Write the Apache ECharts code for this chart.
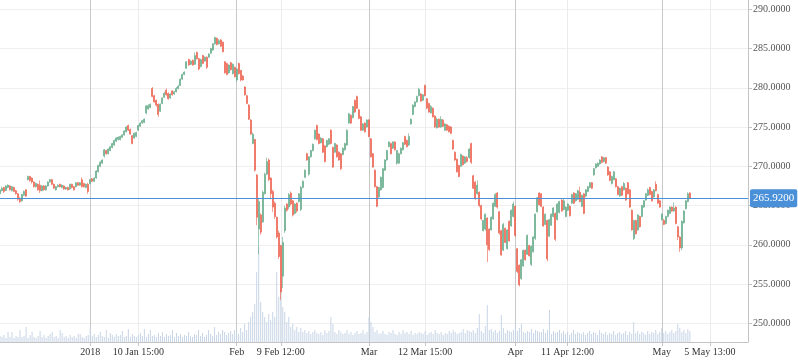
<!DOCTYPE html>
<html><head><meta charset="utf-8">
<script src="https://cdn.jsdelivr.net/npm/echarts@6/dist/echarts.min.js"></script>
<style>html,body{margin:0;padding:0;background:#fff}#c{width:798px;height:363px}</style>
</head><body><div id="c"></div>
<script>
// [open, close, low, high]
const candlesA = [
[266.5,267.0,266.3,267.1],[266.9,267.2,266.8,267.4],[267.3,266.8,266.6,267.4],[266.9,267.5,266.9,267.6],[267.3,267.6,267.2,267.7],
[267.5,267.0,266.9,267.6],[266.9,267.4,266.8,267.5],[267.3,266.8,266.7,267.4],[266.9,266.5,266.4,267.0],[266.5,265.8,265.6,266.6],
[265.9,265.5,265.3,266.1],[265.6,266.4,265.5,266.5],[266.3,266.8,266.2,266.9],[267.0,266.2,266.1,267.1],[268.3,268.7,268.2,268.8],
[268.7,268.2,268.0,268.8],[268.5,268.0,267.8,268.6],[268.0,267.4,267.3,268.1],[267.4,267.8,267.3,267.9],[267.7,267.0,266.9,267.8],
[267.6,266.9,266.6,268.2],[266.9,267.5,266.8,267.6],[267.5,267.0,266.9,267.6],[267.0,267.5,266.9,267.6],[267.5,268.0,267.4,268.1],
[268.0,268.3,267.9,268.4],[268.3,267.7,267.6,268.4],[267.7,267.2,267.1,267.8],[267.0,267.4,266.9,267.5],[267.4,267.6,267.3,267.7],
[267.7,267.4,267.3,267.8],[267.3,267.6,267.2,267.7],[267.5,267.1,267.0,267.6],[267.1,267.3,267.0,267.4],[267.3,267.0,266.9,267.4],
[267.1,267.7,267.0,267.8],[267.7,267.3,267.2,267.8],[267.4,267.0,266.9,267.5],[267.4,267.9,267.3,268.0],[267.9,267.6,267.5,268.0],
[267.6,267.9,267.5,268.0],[268.3,267.4,267.3,268.6],[267.8,267.4,267.3,267.9],[267.3,267.7,267.2,267.8],[267.7,266.8,266.5,267.9],
[267.8,268.3,267.7,268.4],[268.4,268.1,268.0,268.5],[268.1,268.5,268.0,268.6],[268.5,269.4,268.4,269.5],[269.3,270.1,269.2,270.2],
[270.0,270.5,269.9,270.7],[270.4,270.8,270.3,270.9],[271.3,272.1,271.1,272.2],[272.0,271.6,271.5,272.1],[271.6,272.2,271.5,272.3],
[272.0,272.5,271.9,272.6],[272.4,272.9,272.3,273.0],[272.7,273.3,272.6,273.4],[273.2,273.6,273.1,273.7],[273.4,273.7,273.3,273.8],
[273.4,273.8,273.3,273.9],[273.7,274.0,273.6,274.1],[274.0,274.5,273.9,274.6],[274.4,275.0,274.3,275.1],[275.2,274.6,274.5,275.3],
[274.7,274.1,274.0,274.8],[273.9,272.9,272.8,274.0],[273.6,274.2,273.5,274.3],[273.8,274.3,273.7,274.4],[274.6,275.2,274.5,275.3],
[275.1,275.5,275.0,275.6],[275.5,275.8,275.4,275.9],[275.6,276.0,275.5,276.1]
];
const candlesB = [
[276.8,277.7,276.6,277.8],[277.3,277.7,277.2,277.9],[277.5,277.9,277.4,278.0],[279.9,278.9,278.8,280.1],[279.0,278.2,278.1,279.1],
[278.4,277.8,277.6,278.5],[277.9,276.6,276.3,278.0],[277.0,277.9,276.9,278.0],[278.0,278.7,277.9,278.8],[278.8,279.3,278.7,279.5],
[279.7,279.1,279.0,279.9],[279.3,278.6,278.5,279.4],[278.7,279.2,278.6,279.3],[279.6,279.1,279.0,279.7],[279.2,279.5,279.1,279.6],
[279.5,279.9,279.4,280.1],[279.9,280.2,279.8,280.4],[280.3,281.1,280.2,281.2],[281.1,281.7,281.0,281.8],[281.7,282.0,281.6,282.1],
[282.5,283.3,282.4,283.4],[283.6,282.9,282.8,283.7],[283.0,283.4,282.9,283.5],[283.5,282.9,282.8,283.6],[283.0,284.1,282.9,284.5],
[284.5,283.7,283.6,284.6],[283.7,282.4,282.2,283.8],[282.7,283.6,282.6,283.7],[284.1,283.1,283.0,284.2],[283.4,283.9,283.3,284.0],
[283.9,282.6,282.4,284.0],[283.9,284.3,283.8,284.4],[284.4,285.0,284.3,285.1],[284.8,285.6,284.7,285.7],[285.6,286.4,285.5,286.5],
[286.3,285.5,285.4,286.4],[285.6,286.0,285.5,286.2],[286.1,285.3,285.2,286.2],[285.8,284.6,284.5,285.9],[283.3,281.9,281.8,283.4],
[283.1,281.7,281.6,283.2],[281.9,282.9,281.8,283.0],[283.2,282.3,282.2,283.3],[281.8,283.0,281.7,283.1],[282.6,281.4,281.3,282.7],
[281.0,282.4,280.8,282.5],[283.1,281.8,281.7,283.2],[282.2,281.0,280.8,282.3],[281.5,281.0,280.9,281.6],[280.1,279.1,279.0,280.2],
[279.0,278.0,277.9,279.1],[277.8,276.0,275.9,277.9],[275.9,274.1,274.0,276.0],[272.9,274.1,272.8,274.3],[273.4,269.5,269.3,273.5],
[268.9,263.5,262.5,269.0],[262.0,265.5,258.8,266.0],[263.8,261.6,261.3,264.0],[262.9,266.7,262.8,266.9],[266.5,269.0,266.4,269.2],
[269.0,270.6,268.9,271.1],[270.8,268.3,268.1,271.0],[268.5,266.5,265.8,268.6],[266.8,264.8,264.2,267.0],[265.3,263.6,263.3,265.5],
[263.5,261.0,260.8,263.6],[261.5,258.5,258.2,261.8]
];
const candlesC = [
[259.9,254.0,253.0,260.0],[256.0,260.3,254.5,261.0],[261.8,264.7,261.5,265.0],[265.2,264.4,264.2,265.3],[264.8,266.4,264.5,266.6],
[266.6,265.2,265.0,266.8],[265.6,263.8,263.6,265.7],[264.0,265.2,263.9,265.3],[265.3,264.3,264.1,265.4],[265.5,266.5,265.4,266.6],
[264.5,267.3,264.3,267.5],[267.3,268.1,267.2,268.2],[268.6,269.5,268.5,269.6],[271.6,270.8,270.7,271.7],[269.0,271.2,268.8,271.3],
[271.2,272.0,271.1,272.1],[272.0,272.8,271.9,272.9],[273.5,274.6,273.4,274.7],[275.2,273.4,273.3,275.3],[274.1,272.9,272.8,274.2],
[273.0,273.6,272.9,273.7],[273.5,271.8,271.7,273.6],[272.6,270.6,270.5,272.7],[272.5,273.3,272.4,273.4],[272.8,273.5,272.7,273.6],
[274.6,272.9,272.8,274.7],[272.4,269.9,269.8,272.5],[271.8,272.9,271.7,273.0],[272.7,271.2,271.1,272.8],[271.8,270.8,270.7,271.9],
[271.6,269.7,269.5,271.7],[271.5,272.3,271.4,272.4],[272.1,272.9,272.0,273.0],[272.7,274.6,272.6,274.7],[275.5,276.7,275.4,276.8],
[276.5,275.5,275.4,276.6],[276.2,277.6,276.1,277.7],[278.4,276.9,276.8,278.5],[278.9,277.4,277.3,279.0],[277.2,276.1,276.0,277.3],
[276.3,274.6,274.5,276.4],[274.6,275.4,274.5,275.5],[275.5,274.4,274.3,275.6],[275.0,275.9,274.9,276.0],[275.9,273.8,273.7,276.0],
[273.5,271.2,271.1,273.6],[271.6,269.9,269.8,271.7],[269.5,267.4,267.3,269.6],[267.4,264.9,264.8,267.5],[266.1,267.3,266.0,267.4],
[267.0,268.6,266.9,268.7],[267.3,269.7,267.2,269.8],[269.5,270.8,269.4,270.9],[270.8,272.0,270.7,272.1],[272.5,273.1,272.4,273.2],
[272.9,271.6,271.5,273.0],[272.3,273.1,272.2,273.2],[273.1,272.1,272.0,273.2],[270.4,272.0,270.2,272.1],[270.4,271.6,270.3,271.7],
[271.6,272.3,271.5,272.4],[272.1,273.0,272.0,273.1],[273.8,272.8,272.7,273.9],[273.3,272.5,272.4,273.4],[272.7,273.8,272.6,274.2],
[275.4,276.0,275.3,276.1],[276.6,277.8,276.5,277.9],[277.6,278.2,277.5,278.3],[278.2,278.9,278.1,279.0],[279.0,279.8,278.9,280.0],
[279.2,278.3,278.2,279.3],[278.4,279.1,278.3,279.2]
];
const candlesD = [
[280.3,279.0,278.9,280.4],[278.6,277.4,277.3,278.7],[278.0,276.9,276.8,278.1],[276.8,277.6,276.7,277.8],[277.4,276.3,276.2,277.5],
[276.4,275.0,274.9,276.5],[274.9,276.0,274.8,276.2],[276.0,275.0,274.9,276.1],[275.0,276.0,274.9,276.4],[275.9,275.1,275.0,276.0],
[274.6,275.4,274.5,275.5],[275.3,274.6,274.5,275.4],[275.1,274.4,274.3,275.2],[275.0,274.2,274.1,275.1],[273.3,272.2,272.1,273.4],
[271.8,270.8,270.7,271.9],[270.9,269.3,269.2,271.0],[270.1,268.7,268.6,270.2],[270.0,271.5,269.9,271.6],[271.3,270.2,270.1,271.4],
[270.4,271.2,270.3,271.3],[271.1,270.6,270.5,271.3],[271.1,272.2,271.0,272.3],[272.9,270.5,270.3,273.0],[268.8,267.2,267.1,268.9],
[268.0,265.9,265.7,268.1],[266.5,267.6,266.4,268.2],[266.7,265.0,264.8,266.8],[265.0,263.3,263.1,265.1],[261.8,263.1,261.7,263.2],
[262.0,263.9,261.8,264.0],[263.4,260.0,257.8,263.5],[262.0,259.4,259.2,262.1],[261.9,263.5,261.8,263.6],[263.3,265.3,263.2,265.4],
[264.9,266.4,264.8,266.6],[266.6,264.8,264.6,266.7],[264.2,261.5,261.3,264.3],[261.8,258.7,258.6,261.9],[259.3,262.6,259.2,262.8],
[262.1,260.3,260.2,262.2],[259.5,261.9,259.4,262.0],[263.0,260.5,260.4,263.1],[262.4,264.4,262.3,264.5],[263.6,265.2,263.5,265.5],
[264.9,261.2,261.0,265.0],[259.5,256.6,256.4,259.6],[257.4,254.9,254.7,257.5],[255.7,258.1,255.5,258.2],[257.3,259.3,257.2,259.4],
[259.3,258.1,258.0,259.4],[258.8,261.2,258.7,261.3],[259.9,258.6,258.5,260.0],[257.5,259.8,257.3,259.9],[259.1,261.0,259.0,261.1],
[260.8,263.9,260.6,264.0],[264.2,266.0,264.1,266.1],[266.6,265.1,265.0,266.7],[266.5,264.9,264.8,266.6],[264.8,262.4,262.3,264.9],
[262.6,263.9,262.5,264.0],[263.1,258.2,257.9,263.2],[261.1,263.2,261.0,263.3],[262.5,263.9,262.4,264.0],[263.6,264.7,263.5,264.8],
[264.0,260.7,260.5,264.1],[263.2,265.2,263.1,265.3],[264.1,265.5,264.0,265.6],[265.7,264.3,264.2,265.8],[264.5,265.6,264.4,265.9],
[263.6,264.8,263.5,264.9]
];
const candlesE = [
[264.4,265.2,264.3,265.3],[264.9,263.7,263.6,265.0],[265.3,266.4,265.2,266.5],[266.6,265.3,265.2,266.7],[265.6,266.5,265.5,266.6],
[265.8,266.9,265.7,267.0],[266.7,265.5,265.4,267.4],[264.9,266.3,264.8,266.4],[266.5,264.0,263.9,266.6],[266.2,267.0,266.1,267.1],
[266.8,267.4,266.7,267.5],[267.3,267.9,267.2,268.0],[267.9,267.2,267.1,268.0],[268.9,269.7,268.8,269.8],[269.8,270.3,269.7,270.4],
[270.0,270.4,269.9,270.5],[270.3,270.8,270.2,270.9],[271.2,270.5,270.4,271.3],[270.6,271.1,270.5,271.2],[271.1,270.4,270.3,271.2],
[269.9,268.9,268.8,270.0],[269.3,268.2,268.1,269.4],[267.8,268.7,267.7,268.8],[268.3,269.3,268.2,269.4],[268.4,267.4,267.3,268.5],
[267.4,266.4,266.3,267.5],[266.2,267.2,266.1,267.3],[267.4,266.3,266.2,267.5],[267.0,267.8,266.9,268.0],[267.2,265.7,265.6,267.3],
[267.9,266.5,266.4,268.0],[267.0,264.8,264.7,267.1],[264.4,261.9,261.8,264.5],[260.8,263.1,260.6,263.2],[263.1,261.4,261.3,263.2],
[261.9,263.8,261.8,263.9],[263.6,262.3,262.2,263.7],[263.6,265.0,263.5,265.1],[264.8,265.6,264.7,265.7],[265.7,266.5,265.6,266.6],
[266.3,267.0,266.2,267.2],[267.3,266.4,266.3,267.4],[266.8,265.6,265.5,266.9],[266.1,267.0,266.0,267.1],[267.7,266.9,266.8,268.1],
[266.4,265.3,265.2,266.5],[265.6,264.8,264.7,265.7],[263.2,263.9,263.1,264.0],[263.1,262.6,262.5,263.3],[262.7,263.6,262.6,263.7],
[263.6,264.4,263.5,264.5],[264.0,264.8,263.9,264.9],[264.8,264.3,264.2,264.9],[264.3,264.7,264.2,265.4],[264.8,262.7,262.6,264.9],
[262.3,261.0,260.6,262.4],[261.0,259.6,259.1,261.1],[259.6,263.0,259.3,263.1],[262.8,264.3,262.7,264.4],[264.6,265.6,264.5,265.7],
[265.5,266.5,265.4,266.7],[266.6,265.92,265.8,266.7]
];
const volumes = [
6,5,7,4,10,5,10,4,6,5, 12,5,6,15,4,7,10,5,4,6, 11,5,7,4,6,8,10,5,6,4, 12,9,5,6,4,7,5,6,4,8,
8,5,4,6,7,16,6,8,5,7, 10,6,5,12,4,9,7,5,8,6, 7,11,5,6,13,5,8,6,5,7, 9,6,13,5,8,12,6,7,5,9,
6,10,5,8,6,7,12,5,9,6, 8,5,7,6,10,6,5,8,7,12, 6,9,5,7,12,8,6,15,7,10, 8,12,10,7,9,11,8,12,12,8,
14,10,18,12,20,25,30,38,70,95, 40,30,25,20,28,22,30,25,70,45, 55,35,30,20,25,15,18,12,15,10,
14,10,12,9,11,8,10,12,9,8, 10,7,12,9,11,25,18,10,8,12, 10,8,9,12,8,10,7,9,11,8, 9,12,8,10,25,20,15,10,12,8,
9,11,8,7,10,9,12,8,7,10, 8,12,9,10,8,11,7,9,8,10, 9,8,11,7,9,10,8,12,9,8, 10,7,9,8,11,9,12,10,8,9,
10,13,9,12,11,10,12,9,14,28, 11,9,16,37,12,13,10,12,9,11, 27,14,9,12,11,10,12,20,11,14, 18,10,9,11,10,13,9,12,11,10,
10,13,9,12,32,8,11,9,10,12, 9,11,8,10,7,9,12,8,10,9, 8,10,7,9,11,8,10,9,7,12, 9,8,10,7,9,8,11,7,9,10,
8,9,11,7,10,8,20,9,11,8, 10,9,7,11,8,10,9,12,8,10, 14,9,11,8,10,12,9,11,18,14, 10,12,9,13,11
];
const tickLabels = ['2018','10 Jan 15:00','Feb','9 Feb 12:00','Mar','12 Mar 15:00','Apr','11 Apr 12:00','May','5 May 13:00'];
const tickSlots = [45,69,118,140,184,212,257,283,330,354];
const totalSlots = 374;
const lastPrice = 265.92;
const priceMin = 247.62, priceMax = 291.18;

const candles = candlesA.concat(candlesB, candlesC, candlesD, candlesE);
const categories = [];
for (let i = 0; i < totalSlots; i++) categories.push(String(i));
const labelAt = {};
tickSlots.forEach((s, k) => { labelAt[s] = tickLabels[k]; });
const isTick = (idx) => labelAt[idx] !== undefined;

const upColor = '#5fa884', downColor = '#ec5a46';
const font = 'Liberation Serif';
const chart = echarts.init(document.getElementById('c'), null, {renderer: 'canvas'});
chart.setOption({
  animation: false,
  backgroundColor: '#fff',
  grid: [
    {left: 0, right: 50, top: 0, bottom: 21},
    {left: 0, right: 50, bottom: 21, height: 100}
  ],
  xAxis: [
    {
      type: 'category', data: categories, boundaryGap: false, gridIndex: 0,
      axisLine: {lineStyle: {color: '#c4c4c4'}},
      axisTick: {show: true, interval: isTick, length: 4, lineStyle: {color: '#c4c4c4'}},
      axisLabel: {interval: isTick, formatter: (v) => labelAt[v] || '', color: '#333', fontFamily: font, fontSize: 10, margin: 5},
      splitLine: {show: true, interval: isTick, lineStyle: {color: ['#c8c8c8', '#ebebeb'], width: 1}}
    },
    {type: 'category', data: categories, boundaryGap: false, gridIndex: 1, show: false}
  ],
  yAxis: [
    {
      type: 'value', position: 'right', gridIndex: 0, min: priceMin, max: priceMax,
      splitNumber: 9, minInterval: 5, maxInterval: 5,
      axisLine: {show: true, lineStyle: {color: '#c4c4c4'}},
      axisTick: {show: true, length: 4, lineStyle: {color: '#c4c4c4'}},
      axisLabel: {showMinLabel: false, showMaxLabel: false, formatter: (v) => v.toFixed(4), color: '#555', fontFamily: font, fontSize: 10, margin: 5},
      splitLine: {show: true, showMinLine: false, showMaxLine: false, lineStyle: {color: '#efefef'}}
    },
    {type: 'value', gridIndex: 1, min: 0, max: 100, show: false}
  ],
  series: [
    {
      type: 'bar', xAxisIndex: 1, yAxisIndex: 1, data: volumes, barWidth: 1,
      itemStyle: {color: '#c8d5e6'}, silent: true
    },
    {
      type: 'candlestick', xAxisIndex: 0, yAxisIndex: 0, data: candles, barWidth: 1.5,
      large: false, progressive: 0,
      itemStyle: {color: upColor, color0: downColor, borderColor: upColor, borderColor0: downColor, borderWidth: 0.6},
      markLine: {
        silent: true, symbol: 'none',
        data: [{yAxis: lastPrice}],
        lineStyle: {color: '#4a90d9', width: 1, type: 'solid'},
        label: {position: 'end', formatter: lastPrice.toFixed(4), color: '#fff', backgroundColor: '#4a90d9',
          fontFamily: font, fontSize: 11, padding: [4, 3, 3, 3], borderRadius: 2, distance: 2}
      }
    }
  ]
});
</script></body></html>
